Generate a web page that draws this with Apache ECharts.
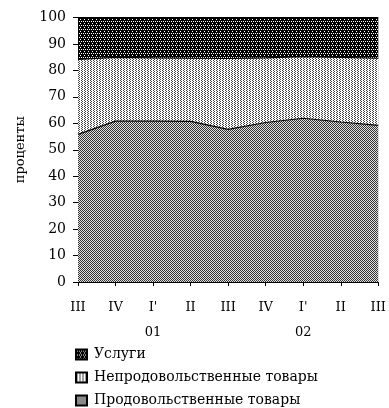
<!DOCTYPE html>
<html><head><meta charset="utf-8">
<script src="https://cdn.jsdelivr.net/npm/echarts@6/dist/echarts.min.js"></script>
<style>html,body{margin:0;padding:0;background:#fff}#c{width:389px;height:408px}</style>
</head><body><div id="c"></div>
<script>
var quarters = ["III","IV","I'","II","III","IV","I'","II","III"];
var years = ["","","01","","","","02","",""];
var food = [55.8, 60.8, 60.8, 60.7, 57.7, 60.3, 61.9, 60.5, 59.2];
var nonFood = [28.4, 24.1, 23.9, 23.9, 26.8, 24.4, 23.3, 24.4, 25.4];
var services = [15.8, 15.1, 15.3, 15.4, 15.5, 15.3, 14.8, 15.1, 15.4];
var yTicks = [0,10,20,30,40,50,60,70,80,90,100];

function makePattern(w, h, bg, fg, pts) {
  var c = document.createElement('canvas');
  c.width = w; c.height = h;
  var g = c.getContext('2d');
  g.fillStyle = bg; g.fillRect(0,0,w,h);
  g.fillStyle = fg;
  pts.forEach(function(p){ g.fillRect(p[0], p[1], 1, 1); });
  return {image: c, repeat: 'repeat'};
}
var patServices = makePattern(4, 4, '#000', '#fff', [[1,1],[3,1],[0,3]]);
var patNonFood = makePattern(3, 2, '#fff', '#444', [[0,0],[1,1]]);
var patFood = makePattern(2, 2, '#e0e0e0', '#333', [[0,0],[1,1]]);

var font = 'DejaVu Serif';
var chart = echarts.init(document.getElementById('c'), null, {renderer: 'canvas'});
function mk(name, data, pat) {
  return {
    name: name, type: 'line', stack: 'total', data: data, symbol: 'none',
    lineStyle: {color: '#000', width: 1.2},
    areaStyle: {color: pat, opacity: 1},
    itemStyle: {color: pat, borderColor: '#000', borderWidth: 1},
    animation: false
  };
}
chart.setOption({
  animation: false,
  textStyle: {fontFamily: font, color: '#000'},
  grid: {left: 78, right: 9, top: 17.5, bottom: 126, containLabel: false},
  xAxis: {
    type: 'category', data: quarters, boundaryGap: false,
    axisLine: {lineStyle: {color: '#000', width: 1}},
    axisTick: {show: true, length: 4, lineStyle: {color: '#000'}},
    axisLabel: {
      interval: 0, margin: 13, color: '#000', fontFamily: font, fontSize: 13, lineHeight: 25,
      formatter: function(v, i) { return v + '\n' + years[i]; }
    },
    splitLine: {show: false}
  },
  yAxis: {
    type: 'value', min: yTicks[0], max: yTicks[yTicks.length-1], interval: 10,
    name: 'проценты', nameLocation: 'middle', nameGap: 51,
    nameTextStyle: {fontFamily: font, fontSize: 13, color: '#000'},
    axisLine: {show: true, lineStyle: {color: '#000', width: 1}},
    axisTick: {show: true, length: 5, lineStyle: {color: '#000'}},
    axisLabel: {margin: 12, color: '#000', fontFamily: font, fontSize: 14},
    splitLine: {show: false}
  },
  legend: {
    orient: 'vertical', left: 75, top: 347, itemWidth: 11, itemHeight: 10, itemGap: 8,
    padding: 0, icon: 'rect',
    data: ['Услуги', 'Непродовольственные товары', 'Продовольственные товары'],
    textStyle: {fontFamily: font, fontSize: 14, color: '#000', lineHeight: 15, padding: [0,0,0,2]}
  },
  series: [
    mk('Продовольственные товары', food, patFood),
    mk('Непродовольственные товары', nonFood, patNonFood),
    mk('Услуги', services, patServices)
  ]
});
</script></body></html>
